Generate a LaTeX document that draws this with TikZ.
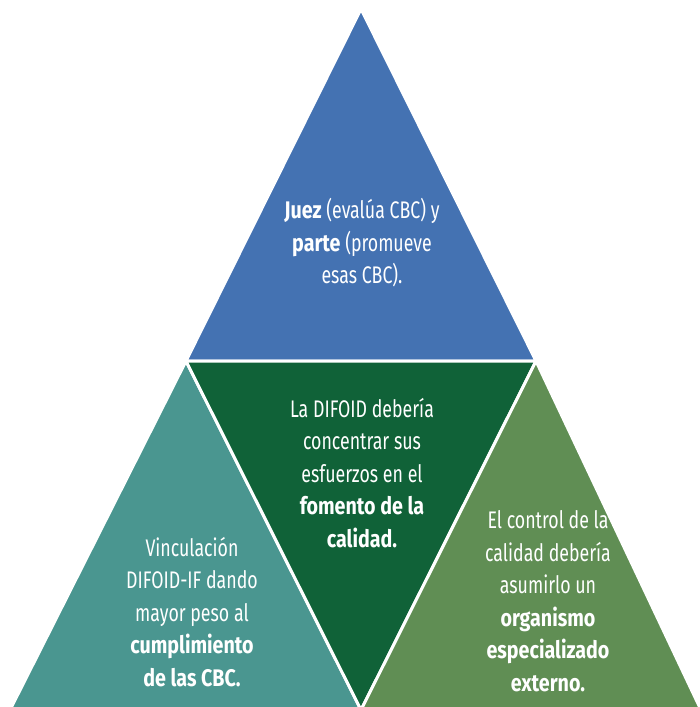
\documentclass[tikz,border=0pt]{standalone}
\usepackage{fontspec}
\setmainfont{Fira Sans}[FakeStretch=0.74,BoldFeatures={FakeStretch=0.82}]
\definecolor{cblue}{RGB}{68,114,178}
\definecolor{cdark}{RGB}{16,98,56}
\definecolor{cteal}{RGB}{74,150,144}
\definecolor{colive}{RGB}{96,142,84}
\tikzset{
  tri/.style={draw=white,line width=3pt,line join=miter},
  txt/.style={text=white,align=center,font=\fontsize{24}{32.5}\selectfont,inner sep=0pt}
}
\begin{document}
\begin{tikzpicture}[x=1pt,y=-1pt]
\useasboundingbox (0,0) rectangle (700,707);
\begin{scope}
\clip (0,0) rectangle (700,707);
\coordinate (A) at (361,9);
\coordinate (B) at (186,361);
\coordinate (C) at (536,361);
\coordinate (D) at (10,710);
\coordinate (E) at (361,710);
\coordinate (F) at (701,710);
\fill[cblue,tri] (A) -- (B) -- (C) -- cycle;
\fill[cteal,tri] (B) -- (D) -- (E) -- cycle;
\fill[cdark,tri] (B) -- (C) -- (E) -- cycle;
\fill[colive,tri] (C) -- (E) -- (F) -- cycle;
\end{scope}
\node[txt] (top) at (362,243) {\textbf{Juez} (evalúa CBC) y\\\textbf{parte} (promueve\\esas CBC).};
\node[txt] (mid) at (362,473) {La DIFOID debería\\concentrar sus\\esfuerzos en el\\\textbf{fomento de la}\\\textbf{calidad.}};
\node[txt] (left) at (192,612) {Vinculación\\DIFOID-IF dando\\mayor peso al\\\textbf{cumplimiento}\\\textbf{de las CBC.}};
\node[txt] (right) at (548,601) {El control de la\\calidad debería\\asumirlo un\\\textbf{organismo}\\\textbf{especializado}\\\textbf{externo.}};
\end{tikzpicture}
\end{document}
